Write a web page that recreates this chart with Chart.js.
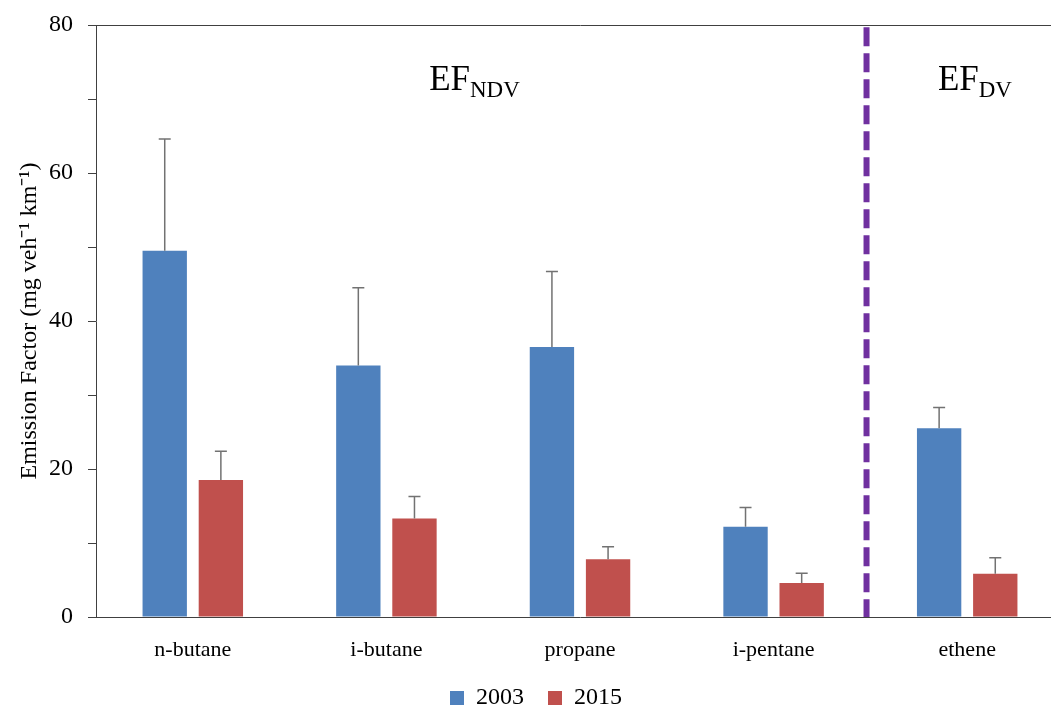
<!DOCTYPE html>
<html>
<head>
<meta charset="utf-8">
<script src="https://cdn.jsdelivr.net/npm/chart.js@4.4.1/dist/chart.umd.min.js"></script>
<style>
  html, body { margin: 0; padding: 0; background: #fff; overflow: hidden; }
  #wrap { width: 1051px; height: 708px; overflow: hidden; position: relative; }
  #chart { display: block; }
</style>
</head>
<body>
<div id="wrap">
  <canvas id="chart" width="1076" height="708"></canvas>
</div>
<script>
// Chart data
const categories = ['n-butane', 'i-butane', 'propane', 'i-pentane', 'ethene'];
const seriesNames = ['2003', '2015'];
const ef2003 = [49.5, 34.0, 36.5, 12.2, 25.5];
const ef2015 = [18.5, 13.3, 7.8, 4.6, 5.85];
// upper error bar lengths
const err2003 = [15.1, 10.5, 10.2, 2.6, 2.8];
const err2015 = [3.9, 3.0, 1.7, 1.3, 2.15];
const yMajorTicks = [0, 20, 40, 60, 80];

const SERIF = '"Liberation Serif", "Times New Roman", serif';

/**
 * Draws the error bars, the dashed divider and the EF labels
 */
const overlayPlugin = {
    id: 'overlay',
    afterDatasetsDraw(chart) {
        const ctx = chart.ctx;
        const x = chart.scales.x;
        const y = chart.scales.y;
        const errs = [err2003, err2015];

        ctx.save();
        // error bars (upper only)
        ctx.strokeStyle = '#727272';
        ctx.lineWidth = 1.5;
        chart.data.datasets.forEach((ds, di) => {
            chart.getDatasetMeta(di).data.forEach((bar, i) => {
                const yTop = y.getPixelForValue(ds.data[i] + errs[di][i]);
                ctx.beginPath();
                ctx.moveTo(bar.x, bar.y);
                ctx.lineTo(bar.x, yTop);
                ctx.moveTo(bar.x - 6, yTop);
                ctx.lineTo(bar.x + 6, yTop);
                ctx.stroke();
            });
        });

        // dashed divider between i-pentane and ethene
        const xd = x.getPixelForValue(3.48);
        ctx.strokeStyle = '#7030A0';
        ctx.lineWidth = 6;
        ctx.setLineDash([19, 7]);
        ctx.beginPath();
        ctx.moveTo(xd, y.getPixelForValue(79.7));
        ctx.lineTo(xd, y.getPixelForValue(0));
        ctx.stroke();
        ctx.setLineDash([]);

        // EF labels
        drawSubLabel(ctx, 'EF', 'NDV', x.getPixelForValue(1.455), y.getPixelForValue(71.2));
        drawSubLabel(ctx, 'EF', 'DV', x.getPixelForValue(4.04), y.getPixelForValue(71.2));
        ctx.restore();
    }
};

function drawSubLabel(ctx, main, sub, cx, baseline) {
    ctx.fillStyle = '#000';
    ctx.textBaseline = 'alphabetic';
    ctx.font = '35px ' + SERIF;
    const w1 = ctx.measureText(main).width;
    ctx.font = '23px ' + SERIF;
    const w2 = ctx.measureText(sub).width;
    const left = cx - (w1 + w2) / 2;
    ctx.textAlign = 'left';
    ctx.font = '35px ' + SERIF;
    ctx.fillText(main, left, baseline);
    ctx.font = '23px ' + SERIF;
    ctx.fillText(sub, left + w1, baseline + 7);
}

const data = {
    labels: categories,
    datasets: [
        {
            label: seriesNames[0],
            data: ef2003,
            backgroundColor: '#4F81BD',
            borderWidth: 0,
            categoryPercentage: 0.58,
            barPercentage: 0.79
        },
        {
            label: seriesNames[1],
            data: ef2015,
            backgroundColor: '#C0504D',
            borderWidth: 0,
            categoryPercentage: 0.58,
            barPercentage: 0.79
        }
    ]
};

const config = {
    type: 'bar',
    data: data,
    options: {
        responsive: false,
        animation: false,
        layout: {
            padding: { left: 8, right: 12, top: 25, bottom: -12 }
        },
        scales: {
            x: {
                afterFit: function(scale) {
                    scale.height = 45;
                    scale.paddingLeft = 0;
                    scale.paddingRight = 0;
                },
                grid: { drawOnChartArea: false, drawTicks: false },
                border: { color: '#404040', width: 1 },
                ticks: {
                    color: '#000',
                    padding: 20,
                    font: { family: SERIF, size: 22 }
                }
            },
            y: {
                min: 0,
                max: 80,
                afterFit: function(scale) {
                    scale.width = 88;
                    scale.paddingTop = 0;
                    scale.paddingBottom = 0;
                },
                ticks: {
                    stepSize: 10,
                    color: '#000',
                    padding: 15,
                    font: { family: SERIF, size: 24 },
                    callback: function(value) {
                        return yMajorTicks.includes(value) ? value : '';
                    }
                },
                grid: {
                    color: function(c) {
                        return c.tick && c.tick.value === 80 ? '#404040' : 'rgba(0,0,0,0)';
                    },
                    tickColor: '#404040',
                    tickLength: 8,
                    lineWidth: 1
                },
                border: { color: '#404040', width: 1 },
                title: {
                    display: true,
                    text: 'Emission Factor (mg veh\u207B\u00B9 km\u207B\u00B9)',
                    color: '#000',
                    padding: { top: 7, bottom: 0 },
                    font: { family: SERIF, size: 24 }
                }
            }
        },
        plugins: {
            legend: {
                position: 'bottom',
                labels: {
                    color: '#000',
                    boxWidth: 14,
                    boxHeight: 14,
                    padding: 24,
                    font: { family: SERIF, size: 24 }
                }
            },
            tooltip: { enabled: false }
        }
    },
    plugins: [overlayPlugin]
};

new Chart(document.getElementById('chart'), config);
</script>
</body>
</html>
